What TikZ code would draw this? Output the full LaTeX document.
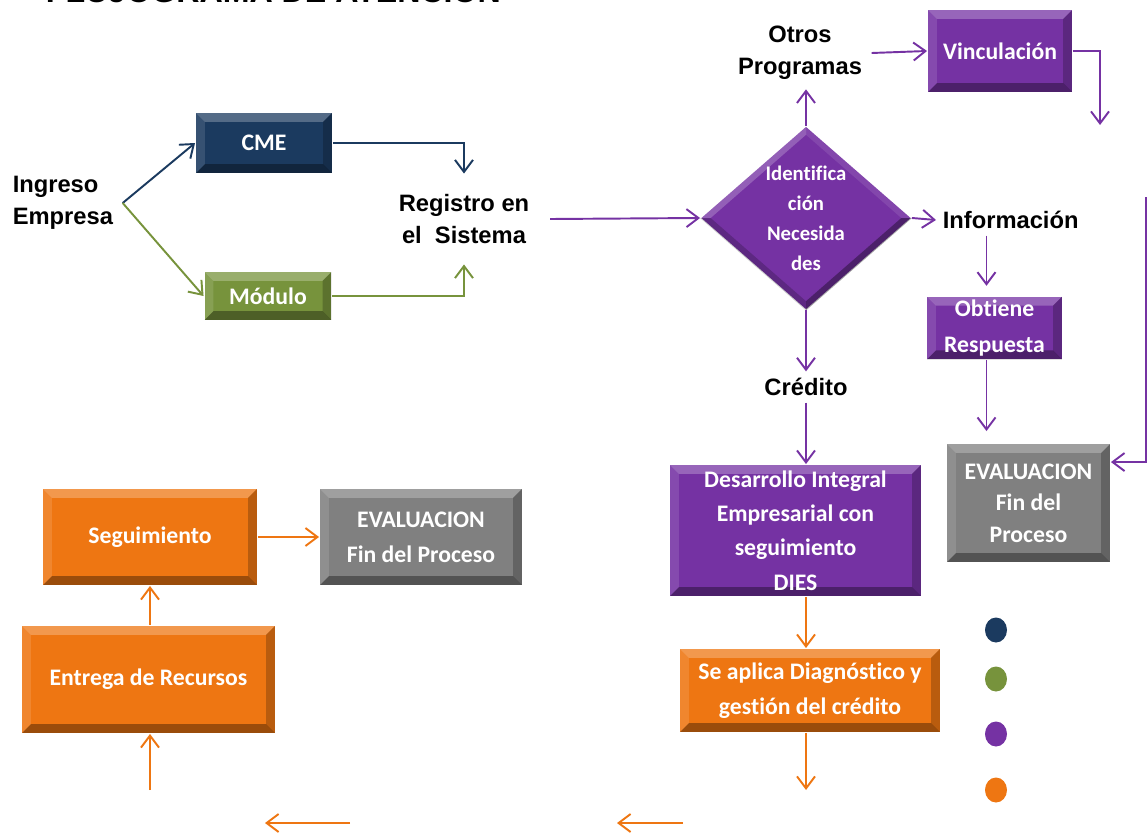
\documentclass[tikz,border=0pt]{standalone}
\usepackage{fontspec}
\setmainfont{Liberation Sans}
\newfontfamily\cajafont[Ligatures=NoCommon]{Carlito}
\usetikzlibrary{positioning,arrows.meta,shapes.geometric,calc}

\definecolor{azulcme}{HTML}{1B3A5F}
\definecolor{verdemod}{HTML}{77933C}
\definecolor{morado}{HTML}{7532A3}
\definecolor{naranja}{HTML}{EE7612}
\definecolor{gris}{HTML}{808080}

% bisel de las cajas
\newcommand{\bisel}{%
  \coordinate (bb1) at (path picture bounding box.south west);
  \coordinate (bb2) at (path picture bounding box.south east);
  \coordinate (bb3) at (path picture bounding box.north east);
  \coordinate (bb4) at (path picture bounding box.north west);
  \fill[white,opacity=.25] (bb4) -- (bb3) -- ([shift={(-5pt,-5pt)}]bb3) -- ([shift={(5pt,-5pt)}]bb4) -- cycle;
  \fill[white,opacity=.12] (bb1) -- (bb4) -- ([shift={(5pt,-5pt)}]bb4) -- ([shift={(5pt,5pt)}]bb1) -- cycle;
  \fill[black,opacity=.35] (bb1) -- (bb2) -- ([shift={(-5pt,5pt)}]bb2) -- ([shift={(5pt,5pt)}]bb1) -- cycle;
  \fill[black,opacity=.22] (bb2) -- (bb3) -- ([shift={(-5pt,-5pt)}]bb3) -- ([shift={(-5pt,5pt)}]bb2) -- cycle;
}

\begin{document}
\begin{tikzpicture}[x=0.02cm,y=-0.02cm,->,>={Straight Barb[length=2.4mm,width=3.6mm]},line width=1.1pt,
    caja/.style={rectangle,fill=#1,text=white,align=center,inner sep=2pt,
      font=\cajafont\bfseries\fontsize{13.5}{18}\selectfont,path picture={\bisel}},
    etiqueta/.style={align=center,font=\bfseries\fontsize{13.5}{18}\selectfont},
    punto/.style={ellipse,minimum width=.44cm,minimum height=.5cm,inner sep=0pt}]
      \useasboundingbox (0,0) rectangle (1147,835);
      \node[anchor=base west,inner sep=0pt,font=\bfseries\fontsize{18.3}{20}\selectfont] (titulo) at (45,3) {FLUJOGRAMA DE ATENCIÓN};

      \node[etiqueta,align=left,anchor=west,inner sep=5pt] (ingreso) at (3,203) {Ingreso\\Empresa};
      \node[caja=azulcme,minimum width=2.72cm,minimum height=1.2cm] (cme) at (264,143) {CME};
      \node[caja=verdemod,minimum width=2.54cm,minimum height=.96cm] (modulo) at (268,296) {Módulo};
      \node[etiqueta,inner sep=.4cm] (registro) at (464,219) {Registro en\\el\ \ Sistema};

      \node[diamond,fill=morado,minimum width=4.2cm,minimum height=3.66cm,inner sep=0pt] (ident) at (806,218) {};
      \fill[-,white,opacity=.22] (ident.west) -- (ident.north) -- ($(ident.center)!.9!(ident.north)$) -- ($(ident.center)!.9!(ident.west)$) -- cycle;
      \fill[-,white,opacity=.1] (ident.north) -- (ident.east) -- ($(ident.center)!.9!(ident.east)$) -- ($(ident.center)!.9!(ident.north)$) -- cycle;
      \fill[-,black,opacity=.2] (ident.west) -- (ident.south) -- ($(ident.center)!.9!(ident.south)$) -- ($(ident.center)!.9!(ident.west)$) -- cycle;
      \fill[-,black,opacity=.35] (ident.south) -- (ident.east) -- ($(ident.center)!.9!(ident.east)$) -- ($(ident.center)!.9!(ident.south)$) -- cycle;
      \node[text=white,align=center,font=\cajafont\bfseries\fontsize{11.8}{17}\selectfont] (identtexto) at (ident) {Identifica\\ción\\Necesida\\des};

      \node[etiqueta,inner sep=5pt] (otros) at (800,53) {Otros\\Programas};
      \node[caja=morado,minimum width=2.88cm,minimum height=1.64cm] (vinc) at (1000,51) {Vinculación};
      \coordinate (vincfin) at (1100,125);
      \node[etiqueta,anchor=west] (info) at (936,220) {Información};
      \node[caja=morado,minimum width=2.7cm,minimum height=1.24cm,font=\cajafont\bfseries\fontsize{13.5}{20}\selectfont] (obtiene) at (994.5,328) {Obtiene\\Respuesta};
      \node[caja=gris,minimum width=3.26cm,minimum height=2.36cm] (evalder) at (1028.5,503) {EVALUACION\\Fin del\\Proceso};
      \coordinate (retorno) at (1146,197);

      \node[etiqueta] (credito) at (806,387) {Crédito};
      \node[caja=morado,minimum width=5.02cm,minimum height=2.62cm,font=\cajafont\bfseries\fontsize{13.5}{19.5}\selectfont] (dies) at (795.5,530.5) {Desarrollo Integral\\Empresarial con\\seguimiento\\DIES};
      \node[caja=naranja,minimum width=5.2cm,minimum height=1.66cm,font=\cajafont\bfseries\fontsize{13.5}{20}\selectfont] (aplica) at (810,690.5) {Se aplica Diagnóstico y\\gestión del crédito};
      \coordinate (aplicafin) at (806,790);

      \node[caja=naranja,minimum width=4.28cm,minimum height=1.92cm] (segui) at (150,537) {Seguimiento};
      \node[caja=gris,minimum width=4.04cm,minimum height=1.92cm,font=\cajafont\bfseries\fontsize{13.5}{20}\selectfont] (evalizq) at (421,537) {EVALUACION\\Fin del Proceso};
      \node[caja=naranja,minimum width=5.06cm,minimum height=2.14cm] (entrega) at (148.5,679.5) {Entrega de Recursos};
      \coordinate (entregaini) at (150,790);
      \coordinate (vueltaA) at (683,823);
      \coordinate (vueltaB) at (617,823);
      \coordinate (vueltaC) at (350,823);
      \coordinate (vueltaD) at (265,823);

      \foreach \c/\yy [count=\i] in {azulcme/630,verdemod/679,morado/734,naranja/790}
        \node[punto,fill=\c] (punto\i) at (996,\yy) {};

      % conectores
      \draw[azulcme] (ingreso.east) -- (cme.west);
      \draw[verdemod] (ingreso.east) -- (modulo.west);
      \draw[azulcme] (cme.east) -| (registro.north);
      \draw[verdemod] (modulo.east) -| (registro.south);
      \draw[morado] (registro.east) -- (ident.west);
      \draw[morado] (ident.north) -- (ident.north |- otros.south);
      \draw[morado] (otros.east) -- (vinc.west);
      \draw[morado] (vinc.east) -| (vincfin);
      \draw[morado] (ident.east) -- (info.west);
      \draw[morado] ([xshift=-.16cm]info.south -| obtiene.north) -- ([xshift=-.16cm,yshift=.2cm]obtiene.north);
      \draw[morado] ([xshift=-.16cm]obtiene.south) -- ([xshift=-.16cm,yshift=.24cm]obtiene.south |- evalder.north);
      \draw[morado] (retorno) |- ([yshift=-.38cm]evalder.north east);
      \draw[morado] (ident.south) -- (credito.north);
      \draw[morado] (credito.south) -- (credito.south |- dies.north);
      \draw[naranja] (dies.south -| credito) -- (aplica.north -| credito);
      \draw[naranja] (aplica.south -| aplicafin) -- (aplicafin);
      \draw[naranja] (vueltaA) -- (vueltaB);
      \draw[naranja] (vueltaC) -- (vueltaD);
      \draw[naranja] (entregaini) -- (entregaini |- entrega.south);
      \path[naranja] (entrega.north -| segui) edge (segui.south);
      \path[naranja] (segui) edge (evalizq);
    \end{tikzpicture}
\end{document}
